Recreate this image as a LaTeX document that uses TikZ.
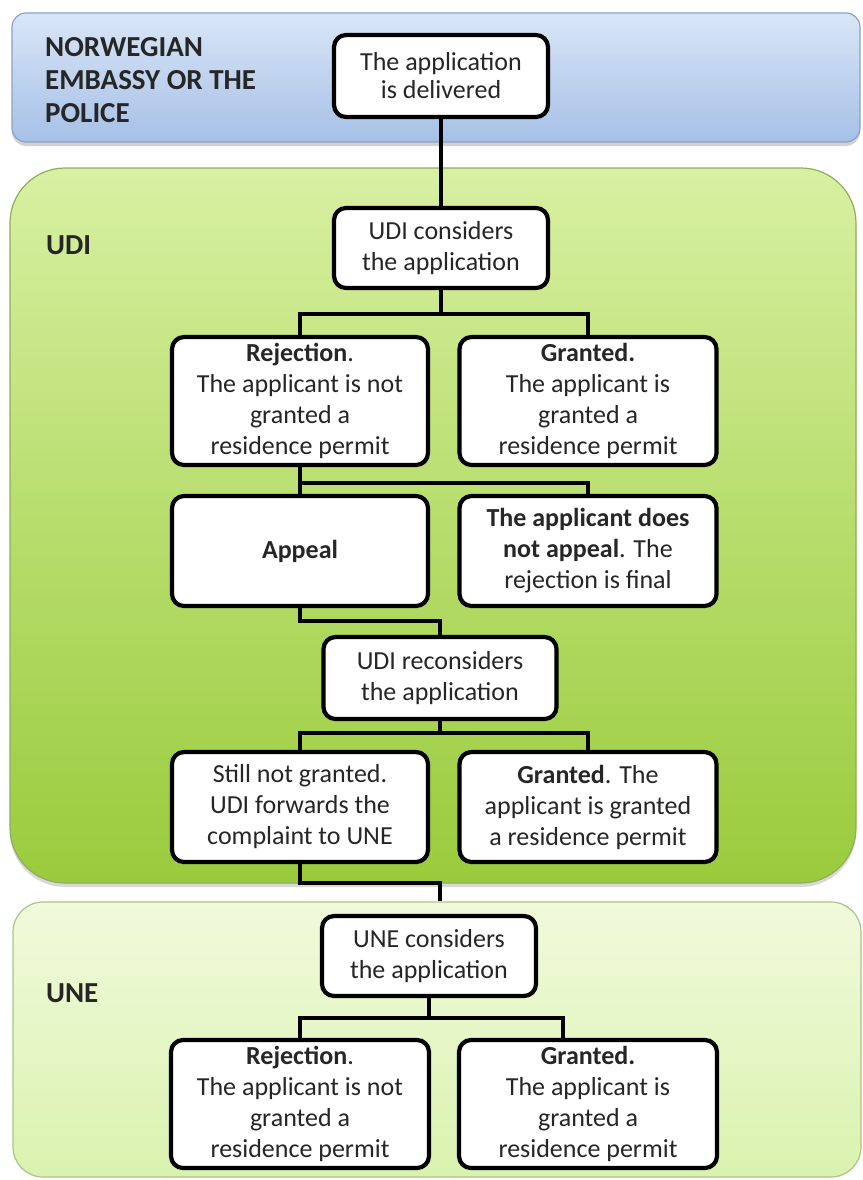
\documentclass[tikz,border=0pt]{standalone}
\usepackage{fontspec}
\setmainfont{Carlito}
\usetikzlibrary{shadows}
\definecolor{bluetop}{HTML}{D9E6F7}
\definecolor{bluebot}{HTML}{A6C0E6}
\definecolor{blueline}{HTML}{8AA2C8}
\definecolor{udtop}{HTML}{D8F0A2}
\definecolor{udmid}{HTML}{B7DD6C}
\definecolor{udbot}{HTML}{9ACB3C}
\definecolor{udline}{HTML}{8FAE5E}
\definecolor{untop}{HTML}{F1FADC}
\definecolor{unbot}{HTML}{DAF2AE}
\definecolor{unline}{HTML}{A9C48A}
\definecolor{txt}{HTML}{262626}
\tikzset{
  box/.style={draw=black, line width=4.2pt, rounded corners=12pt, fill=white, text=txt,
    align=center, inner sep=0pt, font=\fontsize{26}{31}\selectfont},
  conn/.style={line width=4.8pt, draw=black},
  band/.style={rounded corners=#1, inner sep=0pt, line width=1.2pt},
  lab/.style={inner sep=0pt, align=left, text=txt, font=\bfseries\fontsize{29}{33}\selectfont},
}
\begin{document}
\begin{tikzpicture}[x=1pt,y=-1pt]
\useasboundingbox[fill=white] (0,0) rectangle (862,1180);
% bands
\node[band=14pt, draw=blueline, top color=bluetop, bottom color=bluebot,
  minimum width=848pt, minimum height=129pt,
  drop shadow={shadow xshift=0pt, shadow yshift=-4pt, opacity=.35}] (embband) at (436,77.5) {};
\node[band=55pt, draw=udline, top color=udtop, bottom color=udbot, middle color=udmid,
  minimum width=846pt, minimum height=715pt,
  drop shadow={shadow xshift=0pt, shadow yshift=-4pt, opacity=.3}] (udiband) at (433,525.5) {};
\node[band=30pt, draw=unline, top color=untop, bottom color=unbot,
  minimum width=848pt, minimum height=275pt] (uneband) at (437,1039.5) {};
% labels
\node[lab, anchor=north west] (emblab) at (45,37) {NORWEGIAN\\EMBASSY OR THE\\POLICE};
\node[lab, anchor=west] (udilab) at (46,245) {UDI};
\node[lab, anchor=west] (unelab) at (46,993) {UNE};
% boxes
\node[box, minimum width=214pt, minimum height=82pt, font=\fontsize{26}{28}\selectfont] (deliv) at (441,76) {The application\\is delivered};
\node[box, minimum width=214pt, minimum height=80pt] (udic) at (441,248) {UDI considers\\the application};
\node[box, minimum width=256pt, minimum height=128pt] (rej1) at (300,401) {\textbf{Rejection}.\\The applicant is not\\granted a\\residence permit};
\node[box, minimum width=257pt, minimum height=128pt] (gra1) at (588,401) {\textbf{Granted.}\\The applicant is\\granted a\\residence permit};
\node[box, minimum width=256pt, minimum height=110pt] (appeal) at (300,551) {\textbf{Appeal}};
\node[box, minimum width=257pt, minimum height=110pt] (nappeal) at (588,551) {\textbf{The applicant does}\\\textbf{not appeal}. The\\rejection is final};
\node[box, minimum width=233pt, minimum height=82pt] (udir) at (440,678) {UDI reconsiders\\the application};
\node[box, minimum width=256pt, minimum height=110pt] (still) at (300,807) {Still not granted.\\UDI forwards the\\complaint to UNE};
\node[box, minimum width=257pt, minimum height=110pt] (gra2) at (588,807) {\textbf{Granted}. The\\applicant is granted\\a residence permit};
\node[box, minimum width=214pt, minimum height=80pt] (unec) at (429,956) {UNE considers\\the application};
\node[box, minimum width=258pt, minimum height=128pt] (rej2) at (300,1104) {\textbf{Rejection}.\\The applicant is not\\granted a\\residence permit};
\node[box, minimum width=258pt, minimum height=128pt] (gra3) at (588,1104) {\textbf{Granted.}\\The applicant is\\granted a\\residence permit};
% connectors
\draw[conn] (deliv.south) -- (udic.north);
\draw[conn] (udic.south) -- (udic.south |- 0,314);
\draw[conn] (rej1.north) |- (udic.south |- 0,314) -| (gra1.north);
\draw[conn] (rej1.south) -- (appeal.north);
\draw[conn] (rej1.south |- 0,483) -| (nappeal.north);
\draw[conn] (appeal.south) |- (udir.north |- 0,621) -- (udir.north);
\draw[conn] (udir.south) -- (udir.south |- 0,733);
\draw[conn] (still.north) |- (gra2.north |- 0,733) -- (gra2.north);
\draw[conn] (still.south) |- (udir.south |- 0,883) -- (udir.south |- uneband.north);
\draw[conn] (unec.south) -- (unec.south |- 0,1018);
\draw[conn] (rej2.north) |- (unec.south |- 0,1018) -| ([xshift=-25pt]gra3.north);
\end{tikzpicture}
\end{document}
